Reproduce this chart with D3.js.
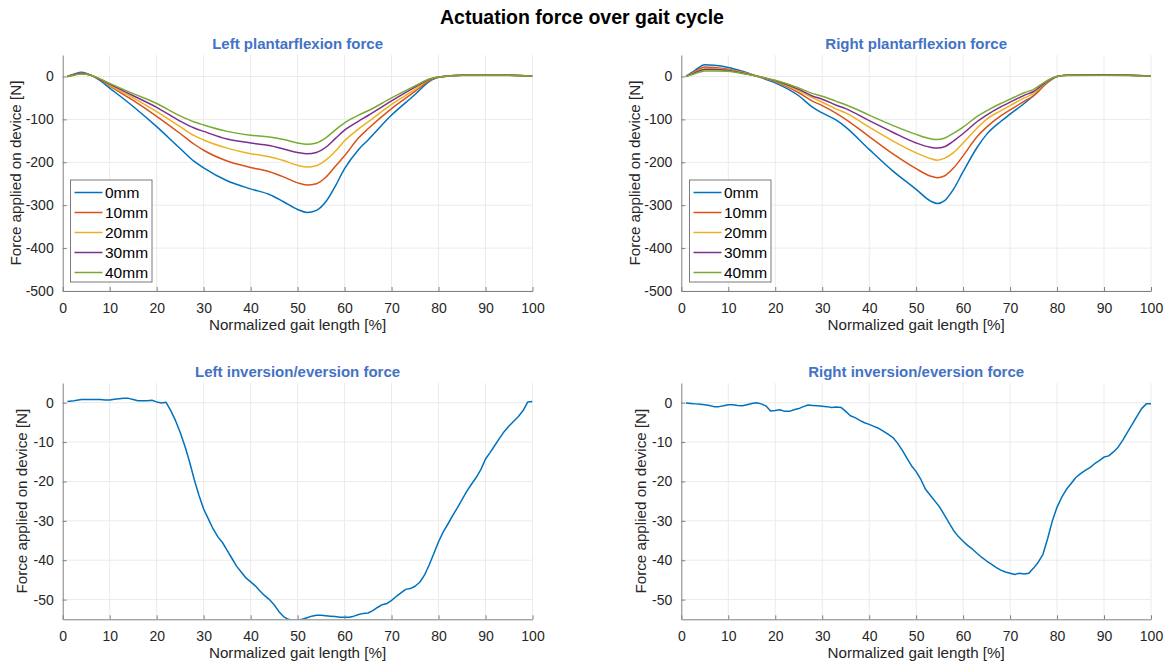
<!DOCTYPE html>
<html>
<head>
<meta charset="utf-8">
<script src="https://cdn.jsdelivr.net/npm/d3@7"></script>
<style>
  html, body { margin: 0; padding: 0; background: #fff; }
  svg { display: block; font-family: "Liberation Sans", Arial, Helvetica, sans-serif; }
</style>
</head>
<body>
<svg id="chart" width="1168" height="664"></svg>
<script>
// ---------------- DATA ----------------
const mainTitle = "Actuation force over gait cycle";
const panelTitles = ["Left plantarflexion force", "Right plantarflexion force", "Left inversion/eversion force", "Right inversion/eversion force"];
const xLabel = "Normalized gait length [%]";
const yLabel = "Force applied on device [N]";
const seriesNames = ["0mm", "10mm", "20mm", "30mm", "40mm"];
const seriesColors = ["#0072BD", "#D95319", "#EDB120", "#7E2F8E", "#77AC30"];
const xTicks = [0, 10, 20, 30, 40, 50, 60, 70, 80, 90, 100];
const pfYTicks = [-500, -400, -300, -200, -100, 0];
const ieYTicks = [-50, -40, -30, -20, -10, 0];

// Left plantarflexion
const leftPfX = [1, 2.5, 4, 6, 8, 10, 15, 20, 25, 28, 30, 35, 40, 44, 47, 50, 52, 54, 56, 58, 60, 63, 65, 70, 75, 78, 80, 85, 90, 95, 100];
const leftPf0  = [0, 6, 10, 3, -10, -27, -70, -117, -168, -198, -213, -243, -262, -275, -292, -310, -317, -312, -292, -256, -215, -170, -148, -90, -42, -12, -2, 3, 3, 3, 1];
const leftPf10 = [0, 5, 8, 3, -8, -22, -56, -93, -133, -158, -172, -197, -212, -222, -234, -248, -253, -250, -235, -210, -185, -143, -122, -75, -35, -10, -2, 3, 3, 3, 1];
const leftPf20 = [0, 4, 7, 3, -7, -20, -50, -82, -117, -138, -148, -167, -180, -187, -196, -207, -211, -208, -195, -175, -150, -122, -106, -65, -30, -8, -1, 3, 3, 3, 1];
const leftPf30 = [0, 4, 7, 3, -7, -18, -45, -72, -104, -120, -128, -146, -155, -161, -169, -177, -180, -177, -165, -145, -125, -104, -91, -57, -25, -7, -1, 3, 3, 3, 1];
const leftPf40 = [0, 3, 6, 3, -6, -16, -40, -63, -92, -106, -113, -128, -137, -141, -147, -155, -158, -155, -143, -125, -108, -90, -80, -50, -22, -6, -1, 2, 2, 2, 1];

// Right plantarflexion
const rightPfX = [1, 3, 5, 7, 10, 13, 16, 20, 25, 28, 30, 33, 35, 40, 45, 50, 53, 54.5, 56, 58, 60, 63, 65, 68, 70, 73, 75, 78, 80, 82, 90, 100];
const rightPf0  = [0, 15, 27, 26, 21, 12, 1, -15, -45, -72, -85, -102, -118, -170, -220, -263, -290, -296, -290, -262, -222, -165, -135, -105, -88, -63, -45, -14, 0, 3, 4, 1];
const rightPf10 = [0, 12, 22, 21, 17, 10, 1, -12, -38, -58, -68, -86, -100, -140, -180, -215, -232, -236, -232, -213, -185, -140, -118, -92, -78, -58, -45, -13, 0, 3, 4, 1];
const rightPf20 = [0, 10, 18, 18, 15, 9, 1, -11, -33, -50, -60, -76, -85, -118, -150, -178, -191, -195, -191, -177, -155, -120, -100, -80, -68, -50, -40, -11, 0, 3, 4, 1];
const rightPf30 = [0, 9, 16, 16, 14, 8, 1, -10, -30, -46, -53, -67, -75, -103, -130, -155, -165, -167, -164, -150, -133, -105, -90, -71, -60, -44, -35, -10, 0, 3, 4, 1];
const rightPf40 = [0, 7, 13, 13, 12, 7, 1, -9, -27, -40, -46, -58, -66, -90, -114, -135, -145, -147, -144, -132, -118, -93, -80, -63, -53, -38, -30, -9, 0, 2, 3, 1];

// Inversion / eversion (one sample per percent)
const ieX = [1,2,3,4,5,6,7,8,9,10,11,12,13,14,15,16,17,18,19,20,21,22,23,24,25,26,27,28,29,30,31,32,33,34,35,36,37,38,39,40,41,42,43,44,45,46,47,48,49,50,51,52,53,54,55,56,57,58,59,60,61,62,63,64,65,66,67,68,69,70,71,72,73,74,75,76,77,78,79,80,81,82,83,84,85,86,87,88,89,90,91,92,93,94,95,96,97,98,99,100];
const leftIe = [0.3,0.4,0.6,0.8,0.8,0.8,0.8,0.8,0.7,0.7,0.9,1.0,1.1,1.1,0.8,0.5,0.5,0.5,0.6,0.2,-0.1,0.1,-2.0,-4.5,-7.5,-11,-15,-19.5,-23.5,-27,-29.5,-32,-34,-35.5,-37.5,-39.5,-41.5,-43,-44.5,-45.5,-46.5,-47.8,-49,-50,-51.3,-53,-54.3,-55,-55.3,-55.2,-55,-54.6,-54.2,-54,-54,-54.1,-54.2,-54.3,-54.5,-54.5,-54.5,-54.2,-53.8,-53.5,-53.4,-52.8,-52,-51.3,-51,-50.2,-49.2,-48.3,-47.4,-47.2,-46.6,-45.6,-43.8,-41.2,-38.3,-35.3,-32.8,-30.8,-28.7,-26.7,-24.6,-22.5,-20.7,-19,-17,-14.3,-12.6,-10.8,-9,-7.3,-5.9,-4.7,-3.5,-2,0.2,0.3];
const rightIe = [-0.1,-0.2,-0.3,-0.4,-0.5,-0.7,-1.0,-1.0,-0.8,-0.5,-0.5,-0.7,-0.8,-0.5,-0.2,0,-0.3,-0.8,-2.1,-2.0,-1.8,-2.2,-2.2,-1.8,-1.5,-1.0,-0.6,-0.7,-0.8,-0.9,-1.0,-1.2,-1.1,-1.2,-2.2,-3.3,-3.8,-4.5,-5.1,-5.5,-6.0,-6.5,-7.2,-8.0,-8.8,-10.2,-12,-14,-16,-17.5,-19.5,-22,-23.5,-25,-26.5,-28.5,-30.5,-32.5,-34,-35.2,-36.3,-37.2,-38.3,-39.3,-40.2,-41,-41.8,-42.5,-43,-43.3,-43.6,-43.3,-43.5,-43.3,-42,-40.5,-38.5,-34.5,-30,-26.5,-24,-22,-20.5,-19,-18,-17.2,-16.5,-15.5,-14.7,-13.8,-13.5,-12.5,-11.3,-9.5,-7.5,-5.5,-3.5,-1.5,-0.3,-0.3];

// ---------------- DRAW ----------------
const svg = d3.select("#chart");
const tickColor = "#262626";
const axisColor = "#808080";
const gridColor = "#ebebeb";
const titleColor = "#4472C4";

svg.append("text")
  .attr("x", 582).attr("y", 24)
  .attr("text-anchor", "middle")
  .attr("font-size", 19.5).attr("font-weight", "bold").attr("fill", "#000")
  .text(mainTitle);

const panels = [
  { title: panelTitles[0], left: 62.7, right: 532.5, top: 55, bottom: 291, yDomain: [-500, 50], yTicks: pfYTicks,
    xs: leftPfX, series: [leftPf0, leftPf10, leftPf20, leftPf30, leftPf40], smooth: true, legend: { x: 70.5, y: 180 }, yLabelX: 21 },
  { title: panelTitles[1], left: 681.3, right: 1151, top: 55, bottom: 291, yDomain: [-500, 50], yTicks: pfYTicks,
    xs: rightPfX, series: [rightPf0, rightPf10, rightPf20, rightPf30, rightPf40], smooth: true, legend: { x: 689.5, y: 180 }, yLabelX: 640 },
  { title: panelTitles[2], left: 62.7, right: 532.5, top: 383, bottom: 619.3, yDomain: [-55, 5], yTicks: ieYTicks,
    xs: ieX, series: [leftIe], smooth: false, legend: null, yLabelX: 27 },
  { title: panelTitles[3], left: 681.3, right: 1151, top: 383, bottom: 619.3, yDomain: [-55, 5], yTicks: ieYTicks,
    xs: ieX, series: [rightIe], smooth: false, legend: null, yLabelX: 646 }
];

panels.forEach((p, pi) => {
  const x = d3.scaleLinear().domain([0, 100]).range([p.left, p.right]);
  const y = d3.scaleLinear().domain(p.yDomain).range([p.bottom, p.top]);
  const g = svg.append("g");

  // grid
  g.append("g").selectAll("line").data(xTicks.slice(1)).join("line")
    .attr("x1", d => x(d)).attr("x2", d => x(d)).attr("y1", p.top).attr("y2", p.bottom)
    .attr("stroke", gridColor).attr("stroke-width", 1);
  g.append("g").selectAll("line").data(p.yTicks).join("line")
    .attr("x1", p.left).attr("x2", p.right).attr("y1", d => y(d)).attr("y2", d => y(d))
    .attr("stroke", gridColor).attr("stroke-width", 1);

  // clip
  const clipId = "clip" + pi;
  svg.append("clipPath").attr("id", clipId).append("rect")
    .attr("x", p.left).attr("y", p.top).attr("width", p.right - p.left).attr("height", p.bottom - p.top);

  // lines
  const line = d3.line()
    .x((d, i) => x(p.xs[i]))
    .y(d => y(d))
    .curve(p.smooth ? d3.curveMonotoneX : d3.curveLinear);
  const lg = g.append("g").attr("clip-path", `url(#${clipId})`);
  p.series.forEach((s, si) => {
    lg.append("path").datum(s)
      .attr("d", line)
      .attr("fill", "none")
      .attr("stroke", seriesColors[si])
      .attr("stroke-width", 1.5)
      .attr("stroke-linejoin", "round");
  });

  // axes
  const xAxis = d3.axisBottom(x).tickValues(xTicks).tickSizeInner(-4).tickSizeOuter(0).tickPadding(9);
  const yAxis = d3.axisLeft(y).tickValues(p.yTicks).tickSizeInner(-4).tickSizeOuter(0).tickPadding(9);
  const xa = g.append("g").attr("transform", `translate(0,${p.bottom})`).call(xAxis);
  const ya = g.append("g").attr("transform", `translate(${p.left},0)`).call(yAxis);
  [xa, ya].forEach(a => {
    a.select(".domain").attr("stroke", axisColor).attr("stroke-width", 1);
    a.selectAll(".tick line").attr("stroke", axisColor);
    a.selectAll(".tick text").attr("fill", tickColor).attr("font-size", 14)
      .attr("font-family", "'Liberation Sans', Arial, sans-serif");
  });
  ya.selectAll(".tick text").text(d => d3.format("d")(d).replace("−", "-"));
  xa.selectAll(".tick text").attr("dy", "0.9em");

  // titles & labels
  g.append("text").attr("x", (p.left + p.right) / 2).attr("y", p.top - 6)
    .attr("text-anchor", "middle").attr("font-size", 15).attr("font-weight", "bold")
    .attr("fill", titleColor).text(p.title);
  g.append("text").attr("x", (p.left + p.right) / 2).attr("y", p.bottom + 39)
    .attr("text-anchor", "middle").attr("font-size", 15.2).attr("fill", tickColor).text(xLabel);
  g.append("text")
    .attr("transform", `translate(${p.yLabelX},${(p.top + p.bottom) / 2}) rotate(-90)`)
    .attr("text-anchor", "middle").attr("font-size", 15.2).attr("fill", tickColor).text(yLabel);

  // legend
  if (p.legend) {
    const L = p.legend;
    const lgd = g.append("g");
    lgd.append("rect").attr("x", L.x).attr("y", L.y).attr("width", 81.5).attr("height", 102)
      .attr("fill", "#fff").attr("stroke", "#7a7a7a").attr("stroke-width", 1);
    seriesNames.forEach((nm, i) => {
      const cy = L.y + 12.5 + i * 20;
      lgd.append("line").attr("x1", L.x + 4).attr("x2", L.x + 32).attr("y1", cy).attr("y2", cy)
        .attr("stroke", seriesColors[i]).attr("stroke-width", 1.5);
      lgd.append("text").attr("x", L.x + 34.5).attr("y", cy).attr("dy", "0.35em")
        .attr("font-size", 15.5).attr("fill", "#000").text(nm);
    });
  }
});
</script>
</body>
</html>
